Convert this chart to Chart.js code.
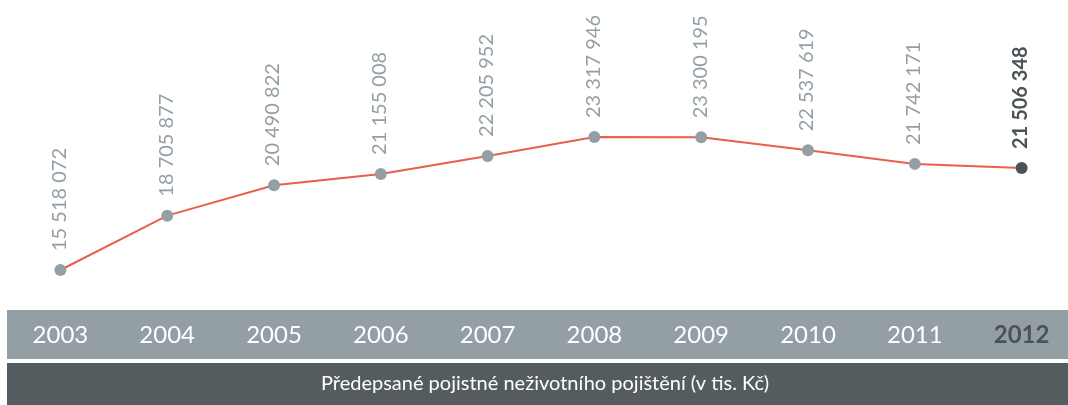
<!DOCTYPE html>
<html>
<head>
<meta charset="utf-8">
<script src="https://cdn.jsdelivr.net/npm/chart.js@4"></script>
<style>
  body { margin: 0; background: #fff; overflow: hidden; }
</style>
</head>
<body>
<canvas id="myChart" width="1081" height="405"></canvas>
<script>
// years on the x axis
const years = ['2003', '2004', '2005', '2006', '2007', '2008', '2009', '2010', '2011', '2012'];
// premiums written, non-life insurance (thousand CZK)
const premiums = [15518072, 18705877, 20490822, 21155008, 22205952, 23317946, 23300195, 22537619, 21742171, 21506348];
const caption = 'Předepsané pojistné neživotního pojištění (v tis. Kč)';

const grey = '#939fa5';
const dark = '#4b5357';
const last = years.length - 1;

// 15518072 -> "15 518 072"
function fmt(v) {
  return v.toString().replace(/\B(?=(\d{3})+(?!\d))/g, ' ');
}

// grey band behind the years + dark band with the caption
const bands = {
  id: 'bands',
  beforeDraw(chart) {
    const ctx = chart.ctx;
    const area = chart.chartArea;
    const x = chart.scales.x;
    ctx.save();
    ctx.fillStyle = grey;
    ctx.fillRect(area.left, x.top, chart.width - area.left, x.bottom - x.top);
    ctx.fillStyle = '#555c60';
    ctx.fillRect(area.left, x.bottom + 4, chart.width - area.left, chart.height - x.bottom - 4);
    ctx.fillStyle = '#ffffff';
    ctx.font = '20px Lato';
    ctx.textAlign = 'center';
    ctx.textBaseline = 'middle';
    ctx.fillText(caption, 545, (x.bottom + 4 + chart.height) / 2);
    ctx.restore();
  }
};

// rotated value labels above each point
const valueLabels = {
  id: 'valueLabels',
  afterDatasetsDraw(chart) {
    const ctx = chart.ctx;
    const meta = chart.getDatasetMeta(0);
    ctx.save();
    meta.data.forEach(function(p, i) {
      ctx.save();
      ctx.translate(p.x - 1, p.y - 19);
      ctx.rotate(-Math.PI / 2);
      ctx.textAlign = 'left';
      ctx.textBaseline = 'middle';
      ctx.fillStyle = i === last ? dark : grey;
      ctx.font = (i === last ? 'bold ' : '') + '20px Lato';
      ctx.fillText(fmt(premiums[i]), 0, 0);
      ctx.restore();
    });
    ctx.restore();
  }
};

const options = {
  type: 'line',
  data: {
    labels: years,
    datasets: [{
      data: premiums,
      borderColor: '#ea5f4b',
      borderWidth: 2,
      tension: 0,
      pointRadius: 6,
      pointBorderWidth: 0,
      pointBackgroundColor: years.map((y, i) => i === last ? dark : grey)
    }]
  },
  options: {
    responsive: false,
    animation: false,
    layout: { padding: { left: 7, right: 0, top: 0, bottom: 46 } },
    plugins: {
      legend: { display: false },
      tooltip: { enabled: false }
    },
    scales: {
      x: {
        offset: true,
        grid: { display: false },
        border: { display: false },
        afterFit: function(scale) { scale.height = 49; },
        ticks: {
          padding: 3,
          maxRotation: 0,
          color: ctx => ctx.index === last ? dark : '#ffffff',
          font: ctx => ({ family: 'Lato', size: 24, weight: ctx.index === last ? 'bold' : 'normal' })
        }
      },
      y: {
        display: false,
        min: 13172000,
        max: 31002000
      }
    }
  },
  plugins: [bands, valueLabels]
};

const myChart = new Chart(document.getElementById('myChart'), options);
</script>
</body>
</html>
